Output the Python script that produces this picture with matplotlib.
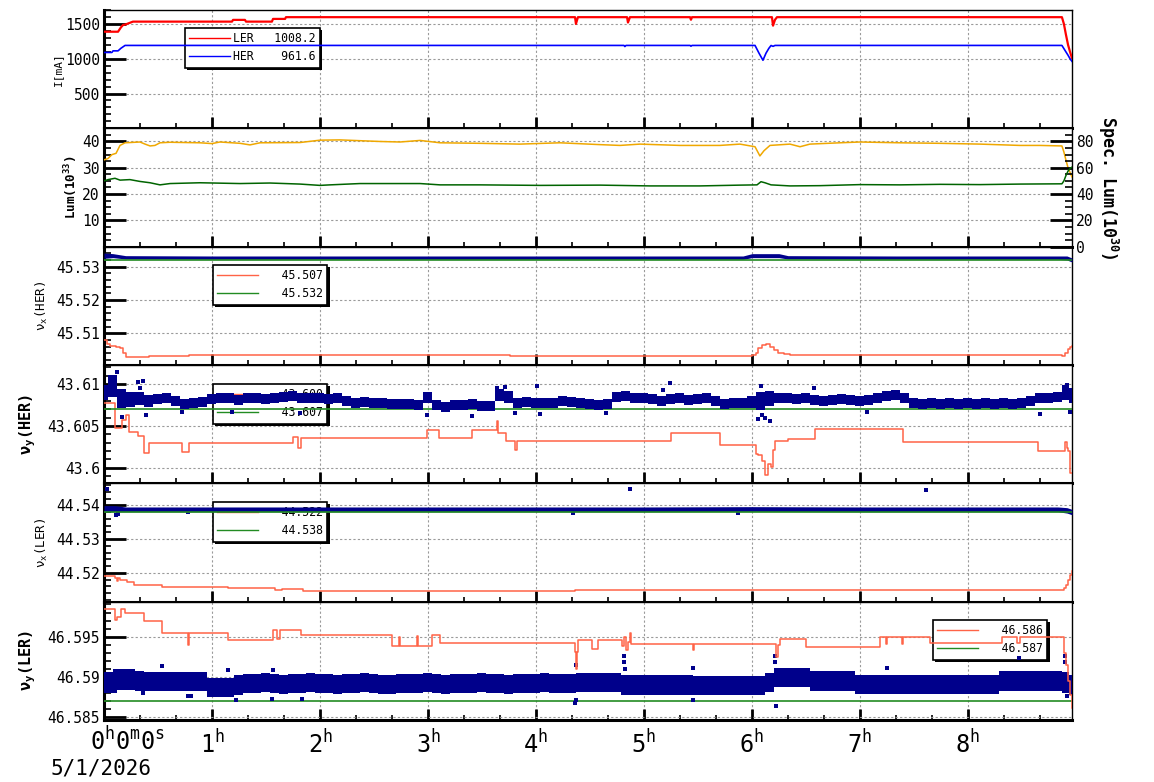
import numpy as np
import matplotlib
matplotlib.use('Agg')
import matplotlib.pyplot as plt
from matplotlib.ticker import MultipleLocator
from matplotlib.lines import Line2D
from matplotlib.patches import Rectangle
import matplotlib.transforms as mtransforms

plt.rcParams['font.family'] = ['DejaVu Sans Mono', 'DejaVu Sans']
plt.rcParams['mathtext.default'] = 'regular'

# ---------------- data (time in minutes after 0h0m0s, 5/1/2026) ----------------
T_END = 537.8
hour_ticks = [0, 60, 120, 180, 240, 300, 360, 420, 480]
hour_labels = ['0$^h$0$^m$0$^s$', '1$^h$', '2$^h$', '3$^h$', '4$^h$', '5$^h$', '6$^h$', '7$^h$', '8$^h$']
date_label = '5/1/2026'

# Panel 1 : beam currents
ler_t = [0, 7.8, 9.4, 10.6, 11.7, 16.1, 71.1, 71.7, 78.3, 78.9, 93.3, 93.9, 100.6, 101.1,
         261.7, 262.2, 263.3, 290.6, 291.1, 292.2, 325.6, 326.1, 326.7, 371.1, 371.7, 372.8,
         373.9, 532.2, 533.3, 534.4, 535.6, 536.7, 537.8]
ler_i = [1388, 1388, 1450, 1485, 1490, 1533, 1533, 1558, 1558, 1533, 1533, 1572, 1572, 1597,
         1597, 1500, 1597, 1597, 1520, 1597, 1597, 1560, 1597, 1597, 1475, 1560,
         1597, 1597, 1500, 1350, 1200, 1100, 1008]
her_t = [0, 4.4, 5.0, 7.8, 9.4, 11.7, 288.9, 289.4, 290, 325.6, 326.1, 326.7, 361.7, 363.9,
         366.1, 367.8, 369.4, 370.6, 371.7, 372.8, 532.2, 533.9, 535.6, 536.7, 537.8]
her_i = [1090, 1090, 1113, 1113, 1150, 1191, 1191, 1175, 1191, 1191, 1180, 1191, 1191, 1080,
         978, 1080, 1150, 1190, 1178, 1191, 1191, 1120, 1050, 1000, 962]
cur_legend = ['LER   1008.2', 'HER    961.6']

# Panel 2 : luminosity (left) and specific luminosity (right)
lum_t = [0, 2.2, 4.4, 6.7, 8.9, 11.7, 20, 22.8, 25.6, 28.3, 31.1, 36.7, 53.3, 60, 64.4, 75.6,
         81.1, 86.7, 108.9, 120, 131.1, 153.3, 164.4, 175.6, 186.7, 208.9, 231.1, 253.3,
         275.6, 286.7, 297.8, 320, 342.2, 353.3, 361.7, 364.4, 366.7, 370, 381.1, 386.7,
         392.2, 408.9, 420, 442.2, 464.4, 486.7, 508.9, 520, 532.2, 533.3, 534.4, 535.6, 537.8]
lum_v = [33, 33.5, 35, 35.5, 38.5, 39.5, 39.8, 39, 38.3, 38.5, 39.5, 39.7, 39.5, 39.2, 39.8, 39.3,
         38.7, 39.5, 39.6, 40.5, 40.6, 40, 39.8, 40.4, 39.5, 39.3, 39, 39.5,
         38.8, 38.5, 39, 38.5, 38.5, 39, 38, 34.5, 36.5, 38.5, 39, 38,
         39, 39.5, 39.8, 39.5, 39.3, 39, 38.5, 38.5, 38.3, 36, 33, 30, 26.5]
slum_t = [0, 2.2, 6.1, 8.9, 14.4, 20, 25.6, 31.1, 36.7, 53.3, 75.6, 92.2, 108.9, 120, 125.6,
          142.2, 175.6, 186.7, 208.9, 242.2, 275.6, 303.3, 331.1, 353.3, 362.8, 365, 367.2,
          370.6, 381.1, 397.8, 420, 442.2, 464.4, 486.7, 508.9, 532.2, 533.3, 534.4, 535.6,
          536.7, 537.8]
slum_v = [50.0, 51.0, 52.0, 50.6, 51.0, 49.6, 48.6, 47.0, 48.0, 48.6, 48.0, 48.4, 47.6, 46.6, 47.0,
          48.0, 48.0, 47.0, 47.0, 46.6, 46.8, 46.2, 46.2, 46.8, 47.0, 49.4, 48.6,
          47.0, 46.2, 46.4, 47.2, 47.0, 47.4, 47.2, 47.6, 47.8, 50.0, 54.0, 57.5,
          59.5, 60.5]

# Panel 3 : nu_x (HER)
p3_red_t = [0, 1.7, 3.3, 6.7, 8.9, 10.6, 12.2, 25, 47.2, 105, 225.6, 360, 362.2, 363.3, 365.6,
            367.8, 370, 372.2, 374.4, 377.8, 381.1, 532.2, 533.9, 535.6, 536.7, 537.8]
p3_red_v = [45.5079, 45.5068, 45.5063, 45.5060, 45.5055, 45.5040, 45.5028, 45.5032, 45.5034,
            45.5035, 45.5033, 45.5034, 45.5040, 45.5055, 45.5065, 45.5069, 45.5060, 45.5050,
            45.5042, 45.5037, 45.5034, 45.5032, 45.5040, 45.5052, 45.5060, 45.5063]
p3_green = 45.532
p3_band_t = [0, 5, 12, 60, 120, 180, 240, 300, 355, 360, 375, 380, 440, 500, 530, 535, 537.8]
p3_band_c = [45.5333, 45.5333, 45.5328, 45.5327, 45.5327, 45.5327, 45.5327, 45.5327, 45.5327,
             45.5333, 45.5333, 45.5328, 45.5327, 45.5327, 45.5327, 45.5326, 45.5320]
p3_band_w = [0.0008, 0.0006, 0.0005, 0.0005, 0.0005, 0.0005, 0.0005, 0.0005, 0.0005,
             0.0006, 0.0006, 0.0005, 0.0005, 0.0005, 0.0005, 0.0006, 0.0006]
p3_legend = ['   45.507', '   45.532']

# Panel 4 : nu_y (HER)
p4_red_t = [0, 6.1, 10, 12.2, 13.9, 18.9, 22.2, 25, 43.3, 47.2, 105, 107.8, 109.4, 179.4, 186.1,
            204.4, 218.1, 219.1, 223.3, 228.3, 229.4, 284.8, 314.8, 342.0, 362.0, 363.5, 365.4,
            367.4, 368.7, 370.7, 371.5, 372.6, 380.2, 395.2, 443.9, 518.7, 533.9, 534.8, 535.7,
            536.7, 537.8]
p4_red_v = [43.6078, 43.6048, 43.6057, 43.6063, 43.6043, 43.6038, 43.6018, 43.6030, 43.6019,
            43.6029, 43.6037, 43.6024, 43.6035, 43.6045, 43.6035, 43.6045, 43.6056, 43.6042,
            43.6032, 43.6021, 43.6032, 43.6032, 43.6042, 43.6027, 43.60167, 43.60150, 43.60079,
            43.59908, 43.60048, 43.60007, 43.60210, 43.60325, 43.60349, 43.60464, 43.60310,
            43.60202, 43.60310, 43.60238, 43.60198, 43.59940, 43.59940]
p4_green = 43.607
p4_band_c = [43.6090, 43.6098, 43.6083, 43.6082, 43.6083, 43.6080, 43.6082, 43.6083, 43.6080, 43.6076,
             43.6077, 43.6079, 43.6082, 43.6083, 43.6084, 43.6081, 43.6083, 43.6084, 43.6082, 43.6083,
             43.6085, 43.6086, 43.6083, 43.6083, 43.6084, 43.6082, 43.6083, 43.6080, 43.6078, 43.6079,
             43.6078, 43.6077, 43.6076, 43.6076, 43.6076, 43.6075, 43.6084, 43.6075, 43.6073, 43.6075,
             43.6075, 43.6076, 43.6074, 43.6074, 43.6087, 43.6085, 43.6078, 43.6079, 43.6078, 43.6077,
             43.6078, 43.6080, 43.6079, 43.6077, 43.6076, 43.6075, 43.6076, 43.6085, 43.6086, 43.6084,
             43.6083, 43.6082, 43.6080, 43.6082, 43.6083, 43.6081, 43.6082, 43.6084, 43.6080, 43.6076,
             43.6077, 43.6077, 43.6079, 43.6080, 43.6083, 43.6084, 43.6083, 43.6082, 43.6083, 43.6081,
             43.6080, 43.6081, 43.6082, 43.6081, 43.6080, 43.6081, 43.6083, 43.6086, 43.6087, 43.6083,
             43.6078, 43.6076, 43.6077, 43.6076, 43.6077, 43.6076, 43.6077, 43.6076, 43.6077, 43.6076,
             43.6077, 43.6076, 43.6077, 43.6080, 43.6084, 43.6083, 43.6085, 43.6090, 43.6086]
p4_band_w = [0.0009, 0.0013, 0.0011, 0.0009, 0.0008, 0.0007, 0.0006, 0.0006, 0.0006, 0.0006,
             0.0006, 0.0006, 0.0006, 0.0006, 0.0006, 0.0006, 0.0006, 0.0006, 0.0006, 0.0006,
             0.0006, 0.0006, 0.0006, 0.0006, 0.0006, 0.0006, 0.0006, 0.0006, 0.0006, 0.0006,
             0.0006, 0.0006, 0.0006, 0.0006, 0.0006, 0.0006, 0.0007, 0.0006, 0.0006, 0.0006,
             0.0006, 0.0006, 0.0006, 0.0006, 0.0007, 0.0007, 0.0006, 0.0006, 0.0006, 0.0006,
             0.0006, 0.0006, 0.0006, 0.0006, 0.0006, 0.0006, 0.0006, 0.0006, 0.0006, 0.0006,
             0.0006, 0.0006, 0.0006, 0.0006, 0.0006, 0.0006, 0.0006, 0.0006, 0.0006, 0.0006,
             0.0006, 0.0006, 0.0007, 0.0011, 0.0009, 0.0006, 0.0006, 0.0006, 0.0006, 0.0006,
             0.0006, 0.0006, 0.0006, 0.0006, 0.0006, 0.0006, 0.0006, 0.0006, 0.0006, 0.0006,
             0.0006, 0.0006, 0.0006, 0.0006, 0.0006, 0.0006, 0.0006, 0.0006, 0.0006, 0.0006,
             0.0006, 0.0006, 0.0006, 0.0006, 0.0006, 0.0006, 0.0006, 0.0009, 0.0009]
p4_out_t = [7.2, 10, 18.9, 20, 21.7, 23.3, 43.3, 71, 109, 179.4, 204.4, 218.3, 222.8, 228.3, 240.6,
            242.2, 278.9, 310.6, 314.4, 363.3, 365, 365.6, 367.2, 370, 394.4, 423.9, 520, 535, 536.7]
p4_out_v = [43.6115, 43.6061, 43.6103, 43.6095, 43.6104, 43.6063, 43.6067, 43.6067, 43.6065,
            43.6063, 43.6062, 43.6095, 43.6097, 43.6066, 43.6098, 43.6064, 43.6066, 43.6093,
            43.6101, 43.6058, 43.6098, 43.6063, 43.6060, 43.6056, 43.6096, 43.6067, 43.6064,
            43.6099, 43.6067]
p4_legend = ['   43.600', '   43.607']

# Panel 5 : nu_x (LER)
p5_red_t = [0, 6.1, 7.2, 7.8, 8.9, 12.8, 16.7, 32.2, 68.9, 95, 98.9, 110.6, 261.7, 333.3, 532.2,
            533.3, 534.4, 535.6, 536.7, 537.8]
p5_red_v = [44.5191, 44.5186, 44.5176, 44.5186, 44.5180, 44.5174, 44.5164, 44.5159, 44.5155,
            44.5150, 44.5152, 44.5147, 44.5150, 44.5148, 44.5148, 44.5155, 44.5165, 44.5180,
            44.5195, 44.5205]
p5_green = 44.538
p5_band_t = [0, 6, 12, 60, 120, 180, 240, 300, 360, 420, 480, 530, 535, 537.8]
p5_band_c = [44.5390, 44.5390, 44.5388, 44.5388, 44.5388, 44.5388, 44.5388, 44.5388, 44.5389,
             44.5388, 44.5388, 44.5388, 44.5385, 44.5380]
p5_band_w = [0.0009, 0.0009, 0.0007, 0.0007, 0.0007, 0.0007, 0.0007, 0.0007, 0.0007,
             0.0007, 0.0007, 0.0007, 0.0008, 0.0008]
p5_out_t = [1.7, 6.7, 7.8, 46.7, 260.6, 292.2, 352, 456.7]
p5_out_v = [44.5447, 44.5372, 44.5374, 44.5381, 44.5376, 44.5447, 44.5377, 44.5444]
p5_legend = ['   44.522', '   44.538']

# Panel 6 : nu_y (LER)
p6_red_t = [0, 6.1, 7.2, 9.4, 11.7, 22.2, 32.2, 46.7, 47.2, 68.9, 93.9, 96.1, 97.8, 109.4, 160,
            163.9, 164.4, 173.9, 174.4, 182.2, 186.7, 261.7, 262.2, 262.8, 263.3, 271.1, 274.4,
            287.8, 288.9, 290, 291.1, 292.2, 292.8, 327.2, 327.8, 373.3, 374.4, 375.6, 390,
            431.1, 434.4, 435, 443.3, 443.9, 458.9, 498.9, 507.2, 508.9, 533.3, 534.4, 535.6,
            536.7, 537.8]
p6_red_v = [46.5984, 46.5971, 46.5975, 46.5984, 46.5980, 46.5969, 46.5954, 46.5940, 46.5954,
            46.5946, 46.5958, 46.5947, 46.5958, 46.5952, 46.5939, 46.5950, 46.5938, 46.5951,
            46.5938, 46.5952, 46.5942, 46.5931, 46.5910, 46.5931, 46.5946, 46.5935, 46.5946,
            46.5939, 46.5950, 46.5933, 46.5943, 46.5955, 46.5941, 46.5933, 46.5941, 46.5925,
            46.5940, 46.5947, 46.5937, 46.5950, 46.5941, 46.5950, 46.5941, 46.5950, 46.5942,
            46.5950, 46.5942, 46.5950, 46.5930, 46.5915, 46.5895, 46.5878, 46.5862]
p6_green = 46.587
p6_band_c = [46.5893, 46.5893, 46.5897, 46.5897, 46.5895, 46.5894, 46.5894, 46.5894, 46.5894, 46.5894,
             46.5894, 46.5894, 46.5887, 46.5887, 46.5887, 46.5890, 46.5892, 46.5892, 46.5893, 46.5892,
             46.5891, 46.5892, 46.5892, 46.5893, 46.5892, 46.5892, 46.5891, 46.5892, 46.5892, 46.5893,
             46.5892, 46.5891, 46.5891, 46.5892, 46.5892, 46.5892, 46.5893, 46.5892, 46.5891, 46.5892,
             46.5892, 46.5892, 46.5893, 46.5892, 46.5892, 46.5891, 46.5892, 46.5892, 46.5892, 46.5893,
             46.5892, 46.5892, 46.5892, 46.5893, 46.5893, 46.5893, 46.5893, 46.5893, 46.5890, 46.5890,
             46.5890, 46.5890, 46.5890, 46.5890, 46.5890, 46.5890, 46.5889, 46.5889, 46.5889, 46.5889,
             46.5889, 46.5889, 46.5889, 46.5889, 46.5893, 46.5899, 46.5899, 46.5899, 46.5899, 46.5895,
             46.5895, 46.5895, 46.5895, 46.5895, 46.5891, 46.5891, 46.5891, 46.5891, 46.5891, 46.5891,
             46.5891, 46.5891, 46.5891, 46.5891, 46.5891, 46.5891, 46.5891, 46.5891, 46.5891, 46.5891,
             46.5895, 46.5895, 46.5895, 46.5895, 46.5895, 46.5895, 46.5895, 46.5893, 46.5890]
p6_band_w = [0.0013, 0.0013, 0.0013, 0.0013, 0.0012, 0.0012, 0.0012, 0.0012, 0.0012, 0.0012,
             0.0012, 0.0012, 0.0012, 0.0012, 0.0012, 0.0012, 0.0012, 0.0012, 0.0012, 0.0012,
             0.0012, 0.0012, 0.0012, 0.0012, 0.0012, 0.0012, 0.0012, 0.0012, 0.0012, 0.0012,
             0.0012, 0.0012, 0.0012, 0.0012, 0.0012, 0.0012, 0.0012, 0.0012, 0.0012, 0.0012,
             0.0012, 0.0012, 0.0012, 0.0012, 0.0012, 0.0012, 0.0012, 0.0012, 0.0012, 0.0012,
             0.0012, 0.0012, 0.0012, 0.0012, 0.0012, 0.0012, 0.0012, 0.0012, 0.0012, 0.0012,
             0.0012, 0.0012, 0.0012, 0.0012, 0.0012, 0.0012, 0.0012, 0.0012, 0.0012, 0.0012,
             0.0012, 0.0012, 0.0012, 0.0012, 0.0012, 0.0012, 0.0012, 0.0012, 0.0012, 0.0012,
             0.0012, 0.0012, 0.0012, 0.0012, 0.0012, 0.0012, 0.0012, 0.0012, 0.0012, 0.0012,
             0.0012, 0.0012, 0.0012, 0.0012, 0.0012, 0.0012, 0.0012, 0.0012, 0.0012, 0.0012,
             0.0012, 0.0012, 0.0012, 0.0012, 0.0012, 0.0012, 0.0012, 0.0013, 0.0013]
p6_out_t = [6.1, 21.9, 32.4, 46.7, 48.1, 69.1, 73.3, 93.1, 94.1, 109.8, 261.7, 262.2, 262.2,
            288.9, 288.9, 289.4, 327.2, 327.2, 372.8, 372.8, 373.3, 435, 508.3, 533.9, 533.9, 535]
p6_out_v = [46.5908, 46.5880, 46.5913, 46.5876, 46.5876, 46.5909, 46.5872, 46.5873, 46.5909,
            46.5873, 46.5868, 46.5915, 46.5872, 46.5926, 46.5918, 46.5910, 46.5911, 46.5872,
            46.5926, 46.5918, 46.5864, 46.5911, 46.5924, 46.5926, 46.5918, 46.5876]
p6_legend = ['   46.586', '   46.587']

# 5-minute sampling grid of the tune clouds (panels 4 and 6)
band_t = list(np.arange(0, 540, 5)) + [T_END]

# ---------------- style ----------------
RED = '#ff0000'
BLUE = '#0000ff'
ORANGE = '#f0a800'
DKGREEN = '#006400'
TOMATO = '#ff6347'
GREEN = '#228b22'
NAVY = '#00008b'

fig = plt.figure(figsize=(11.54, 7.82), dpi=100)
L = 104 / 1154
W = 968 / 1154
PH = 118.33
axes = []
for i in range(6):
    top = 10 + i * PH
    axes.append(fig.add_axes([L, 1 - (top + PH) / 782, W, PH / 782]))


def style(ax, yticks, ylabels, ylim, minor):
    ax.set_xlim(0, T_END)
    ax.set_ylim(*ylim)
    ax.set_xticks(hour_ticks)
    ax.xaxis.set_minor_locator(MultipleLocator(20))
    ax.set_yticks(yticks)
    ax.set_yticklabels(ylabels)
    ax.yaxis.set_minor_locator(MultipleLocator(minor))
    ax.tick_params(axis='y', which='major', direction='in', length=16, width=2,
                   labelsize=10.5, pad=3, right=False)
    ax.tick_params(axis='y', which='minor', direction='in', length=5, width=1.2, right=False)
    ax.tick_params(axis='x', which='major', direction='in', length=8, width=2, top=False)
    ax.tick_params(axis='x', which='minor', direction='in', length=3.5, width=1.2, top=False)
    ax.tick_params(axis='x', labelbottom=False)
    ax.grid(True, which='major', color='#9a9a9a', linestyle=(0, (2, 2)), linewidth=0.8)
    ax.set_axisbelow(True)
    for s in ['left', 'bottom']:
        ax.spines[s].set_linewidth(2.2)
    for s in ['top', 'right']:
        ax.spines[s].set_linewidth(1.0)


legends = []


def add_legend(ax, colors, labels, x0, y1):
    handles = [Line2D([], [], color=c, lw=1.0) for c in colors]
    leg = ax.legend(handles, labels, loc='upper left', bbox_to_anchor=(x0, y1),
                    borderaxespad=0, prop={'family': 'DejaVu Sans Mono', 'size': 8.3},
                    frameon=True, fancybox=False, shadow=False,
                    handlelength=3.5, handletextpad=0.3, borderpad=0.38,
                    labelspacing=0.42, framealpha=1, edgecolor='black')
    leg.get_frame().set_linewidth(1.2)
    leg.set_zorder(2.6)
    legends.append((ax, leg))
    return leg


# Panel 1
ax = axes[0]
style(ax, [500, 1000, 1500], ['500', '1000', '1500'], (0, 1700), 100)
ax.plot(ler_t, ler_i, color=RED, lw=1.6, zorder=3)
ax.plot(her_t, her_i, color=BLUE, lw=1.2, zorder=3)
ax.set_ylabel('I[mA]', fontsize=8)
ax.yaxis.set_label_coords(-0.042, 0.5)
add_legend(ax, [RED, BLUE], cur_legend, 0.0837, 0.848)

# Panel 2
ax = axes[1]
style(ax, [10, 20, 30, 40], ['10', '20', '30', '40'], (0, 45), 2.5)
ax.plot(lum_t, lum_v, color=ORANGE, lw=1.1, zorder=3)
ax.set_ylabel('Lum(10$^{33}$)', fontsize=9, fontweight='bold')
ax.yaxis.set_label_coords(-0.0248, 0.5)
axr = ax.twinx()
axr.set_xlim(0, T_END)
axr.set_ylim(0, 90)
axr.set_yticks([0, 20, 40, 60, 80])
axr.set_yticklabels(['0', '20', '40', '60', '80'])
axr.yaxis.set_minor_locator(MultipleLocator(5))
axr.tick_params(axis='y', which='major', direction='in', length=16, width=2, labelsize=10.5, pad=3)
axr.tick_params(axis='y', which='minor', direction='in', length=5, width=1.2)
axr.plot(slum_t, slum_v, color=DKGREEN, lw=1.1, zorder=3)
axr.set_ylabel('Spec. Lum(10$^{30}$)', rotation=270, fontsize=12, fontweight='bold', va='bottom')
axr.yaxis.set_label_coords(1.0245, 0.5)
axr.yaxis.label.set_va('bottom')
for s in axr.spines.values():
    s.set_visible(False)

# Panel 3
ax = axes[2]
style(ax, [45.51, 45.52, 45.53], ['45.51', '45.52', '45.53'], (45.5005, 45.536), 0.002)
ax.plot(p3_red_t, p3_red_v, color=TOMATO, lw=1.1, drawstyle='steps-post', zorder=3)
ax.fill_between(p3_band_t, np.array(p3_band_c) - np.array(p3_band_w),
                np.array(p3_band_c) + np.array(p3_band_w), color=NAVY, lw=0, zorder=4)
ax.axhline(p3_green, color=GREEN, lw=1.2, zorder=5)
ax.set_ylabel('$ν_x$(HER)', fontsize=9)
ax.yaxis.set_label_coords(-0.0558, 0.5)
add_legend(ax, [TOMATO, GREEN], p3_legend, 0.1126, 0.845)

# Panel 4
ax = axes[3]
style(ax, [43.6, 43.605, 43.61], ['43.6', '43.605', '43.61'], (43.59813, 43.6123), 0.001)
ax.plot(p4_red_t, p4_red_v, color=TOMATO, lw=1.1, drawstyle='steps-post', zorder=3)
ax.axhline(p4_green, color=GREEN, lw=1.2, zorder=3.5)
ax.fill_between(band_t, np.array(p4_band_c) - np.array(p4_band_w),
                np.array(p4_band_c) + np.array(p4_band_w), step='mid', color=NAVY, lw=0, zorder=4)
ax.scatter(p4_out_t, p4_out_v, marker='s', s=9, color=NAVY, lw=0, zorder=4)
ax.set_ylabel('$ν_y$(HER)', fontsize=11, fontweight='bold')
ax.yaxis.set_label_coords(-0.068, 0.5)
add_legend(ax, [TOMATO, GREEN], p4_legend, 0.1126, 0.839)

# Panel 5
ax = axes[4]
style(ax, [44.52, 44.53, 44.54], ['44.52', '44.53', '44.54'], (44.5115, 44.5465), 0.002)
ax.plot(p5_red_t, p5_red_v, color=TOMATO, lw=1.1, drawstyle='steps-post', zorder=3)
ax.fill_between(p5_band_t, np.array(p5_band_c) - np.array(p5_band_w),
                np.array(p5_band_c) + np.array(p5_band_w), color=NAVY, lw=0, zorder=4)
ax.scatter(p5_out_t, p5_out_v, marker='s', s=9, color=NAVY, lw=0, zorder=4)
ax.axhline(p5_green, color=GREEN, lw=1.2, zorder=5)
ax.set_ylabel('$ν_x$(LER)', fontsize=9)
ax.yaxis.set_label_coords(-0.0558, 0.5)
add_legend(ax, [TOMATO, GREEN], p5_legend, 0.1126, 0.842)

# Panel 6
ax = axes[5]
style(ax, [46.585, 46.59, 46.595], ['46.585', '46.59', '46.595'], (46.58466, 46.59935), 0.001)
ax.plot(p6_red_t, p6_red_v, color=TOMATO, lw=1.1, drawstyle='steps-post', zorder=4.5)
ax.axhline(p6_green, color=GREEN, lw=1.2, zorder=3.5)
ax.fill_between(band_t, np.array(p6_band_c) - np.array(p6_band_w),
                np.array(p6_band_c) + np.array(p6_band_w), step='mid', color=NAVY, lw=0, zorder=4)
ax.scatter(p6_out_t, p6_out_v, marker='s', s=9, color=NAVY, lw=0, zorder=4)
ax.set_ylabel('$ν_y$(LER)', fontsize=11, fontweight='bold')
ax.yaxis.set_label_coords(-0.068, 0.5)
add_legend(ax, [TOMATO, GREEN], p6_legend, 0.8564, 0.845)

ax.tick_params(axis='x', labelbottom=True, labelsize=17, pad=7)
ax.set_xticklabels([''] + hour_labels[1:])
trans = mtransforms.blended_transform_factory(ax.transData, ax.transAxes) + \
    mtransforms.ScaledTranslation(-0.14, -0.07, fig.dpi_scale_trans)
ax.text(hour_ticks[0], 0, hour_labels[0], transform=trans, ha='left', va='top', fontsize=17)
fig.text(51 / 1154, 1 - 775 / 782, date_label, fontsize=15, ha='left', va='baseline')

# small drop shadow (right / bottom) behind each legend box
fig.canvas.draw()
renderer = fig.canvas.get_renderer()
for ax_, leg in legends:
    bb = leg.get_frame().get_window_extent(renderer)
    sh = Rectangle((bb.x0 + 2.2, bb.y0 - 2.2), bb.width, bb.height,
                   transform=mtransforms.IdentityTransform(), facecolor='black',
                   edgecolor='none', zorder=2.55)
    ax_.add_artist(sh)

fig.savefig('out.png', dpi=100)
